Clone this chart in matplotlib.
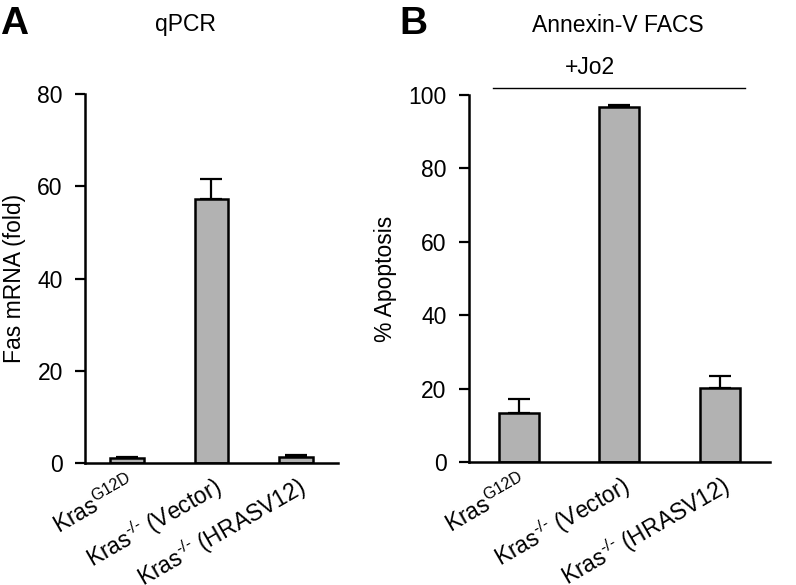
import matplotlib
matplotlib.use("Agg")
import matplotlib.pyplot as plt

plt.rcParams['font.family'] = ['Liberation Sans', 'DejaVu Sans']
plt.rcParams['mathtext.fontset'] = 'custom'
plt.rcParams['mathtext.rm'] = 'Liberation Sans'
plt.rcParams['mathtext.it'] = 'Liberation Sans'
plt.rcParams['mathtext.default'] = 'regular'

categories = [r'Kras$^{G12D}$', r'Kras$^{\text{-/-}}$ (Vector)', r'Kras$^{\text{-/-}}$ (HRASV12)']
qpcr_values = [1.0, 57.3, 1.3]
qpcr_errors = [0.2, 4.3, 0.4]
apop_values = [13.3, 96.7, 20.1]
apop_errors = [3.8, 0.5, 3.3]
qpcr_ticks = [0, 20, 40, 60, 80]
apop_ticks = [0, 20, 40, 60, 80, 100]

fig = plt.figure(figsize=(7.96, 5.85), dpi=100)
axA = fig.add_axes([0.1068, 0.2085, 0.3178, 0.6308])
axB = fig.add_axes([0.589, 0.2103, 0.378, 0.6273])

bar_color = '#b2b2b2'
FS = 16.5

def style(ax, values, errors, ticks, ylabel):
    x = list(range(len(values)))
    ax.bar(x, values, width=0.4, color=bar_color, edgecolor='black', linewidth=1.8, zorder=2)
    ax.errorbar(x, values, yerr=[[0]*len(errors), errors], fmt='none', ecolor='black',
                elinewidth=1.6, capsize=8, capthick=1.6, zorder=1)
    ax.set_xlim(-0.5, 2.5)
    ax.set_ylim(0, ticks[-1])
    ax.set_yticks(ticks)
    ax.spines['top'].set_visible(False)
    ax.spines['right'].set_visible(False)
    ax.spines['left'].set_linewidth(1.8)
    ax.spines['bottom'].set_linewidth(1.8)
    ax.tick_params(axis='y', direction='out', length=7, width=1.6, labelsize=FS, pad=9)
    ax.tick_params(axis='x', length=0, labelsize=FS, pad=6)
    ax.set_xticks(x)
    ax.set_xticklabels(categories, rotation=30, ha='right', rotation_mode='anchor')
    ax.set_ylabel(ylabel, fontsize=FS, labelpad=8)

style(axA, qpcr_values, qpcr_errors, qpcr_ticks, 'Fas mRNA (fold)')
style(axB, apop_values, apop_errors, apop_ticks, '% Apoptosis')

fig.text(185/796, 1 - 25/585, 'qPCR', fontsize=FS, ha='center', va='center')
fig.text(618/796, 1 - 25/585, 'Annexin-V FACS', fontsize=FS, ha='center', va='center')
fig.text(0/796, 1 - 24/585, 'A', fontsize=28, fontweight='bold', ha='left', va='center')
fig.text(399/796, 1 - 24/585, 'B', fontsize=28, fontweight='bold', ha='left', va='center')
fig.text(590/796, 1 - 68/585, '+Jo2', fontsize=FS, ha='center', va='center')
fig.add_artist(plt.Line2D([493/796, 745/796], [1 - 88/585, 1 - 88/585], color='black', linewidth=1.0))

fig.savefig('out.png', dpi=100)
